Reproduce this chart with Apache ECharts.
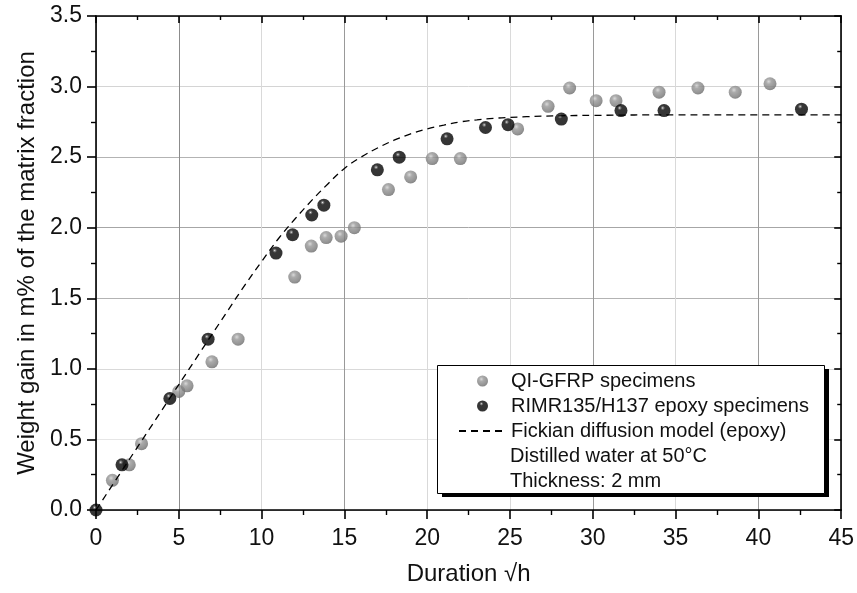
<!DOCTYPE html>
<html>
<head>
<meta charset="utf-8">
<script src="https://cdn.jsdelivr.net/npm/echarts@6/dist/echarts.min.js"></script>
<style>html,body{margin:0;padding:0;background:#fff}#c{width:857px;height:593px}</style>
</head>
<body>
<div id="c"></div>
<script>
// QI-GFRP specimens
const grayX = [0.99, 2.01, 2.75, 5.0, 5.5, 7.0, 8.58, 12.0, 13.0, 13.9, 14.8, 15.6, 17.66, 19.0, 20.3, 22.0, 25.46, 27.3, 28.6, 30.2, 31.4, 34.0, 36.35, 38.6, 40.7];
const grayY = [0.21, 0.32, 0.47, 0.84, 0.88, 1.05, 1.21, 1.65, 1.87, 1.93, 1.94, 2.0, 2.27, 2.36, 2.49, 2.49, 2.70, 2.86, 2.99, 2.90, 2.90, 2.96, 2.99, 2.96, 3.02];
// RIMR135/H137 epoxy specimens
const blackX = [0, 1.57, 4.46, 6.77, 10.87, 11.87, 13.03, 13.76, 16.99, 18.31, 21.2, 23.52, 24.88, 28.1, 31.7, 34.3, 42.6];
const blackY = [0, 0.32, 0.79, 1.21, 1.82, 1.95, 2.09, 2.16, 2.41, 2.50, 2.63, 2.71, 2.73, 2.77, 2.83, 2.83, 2.84];
// Fickian diffusion model (epoxy)
const fickX = [0, 2, 4, 6, 8, 9, 10, 11, 12, 13, 14, 15, 16, 17, 18, 19, 20, 21, 22, 23, 24, 25, 26, 28, 30, 35, 40, 45];
const fickY = [0, 0.356, 0.711, 1.066, 1.42, 1.595, 1.76, 1.92, 2.06, 2.19, 2.31, 2.42, 2.50, 2.565, 2.62, 2.665, 2.70, 2.727, 2.75, 2.764, 2.775, 2.781, 2.787, 2.793, 2.796, 2.8, 2.8, 2.8];

const seriesNames = ['QI-GFRP specimens', 'RIMR135/H137 epoxy specimens', 'Fickian diffusion model (epoxy)'];
const noteLines = ['Distilled water at 50°C', 'Thickness: 2 mm'];
const xTitle = 'Duration √h';
const yTitle = 'Weight gain in m% of the matrix fraction';

const FONT = '"Liberation Sans", Arial, sans-serif';
const zip = (a, b) => a.map((v, i) => [v, b[i]]);

const grayBall = {type: 'radial', x: 0.4, y: 0.33, r: 0.68, colorStops: [
  {offset: 0, color: '#cfcfcf'}, {offset: 0.3, color: '#969696'}, {offset: 0.8, color: '#7a7a7a'}, {offset: 1, color: '#676767'}]};
const blackBall = {type: 'radial', x: 0.4, y: 0.3, r: 0.7, colorStops: [
  {offset: 0, color: '#eeeeee'}, {offset: 0.1, color: '#666666'}, {offset: 0.25, color: '#050505'}, {offset: 1, color: '#000000'}]};

const chart = echarts.init(document.getElementById('c'), null, {renderer: 'canvas'});
const axisLineStyle = {color: '#000', width: 1.6};
const option = {
  backgroundColor: '#fff',
  animation: false,
  textStyle: {fontFamily: FONT},
  grid: {left: 96, right: 14, top: 16, bottom: 83, containLabel: false},
  xAxis: [{
    type: 'value', min: 0, max: 45, interval: 5, position: 'bottom',
    name: xTitle, nameLocation: 'middle', nameGap: 52,
    nameTextStyle: {fontSize: 24, color: '#111', fontFamily: FONT},
    axisLine: {show: true, onZero: false, lineStyle: axisLineStyle},
    axisTick: {show: true, inside: false, length: 9, lineStyle: {color: '#000', width: 1.6}},
    minorTick: {show: true, splitNumber: 2, length: 5, lineStyle: {color: '#000', width: 1.4}},
    axisLabel: {fontSize: 23, color: '#111', margin: 17, fontFamily: FONT},
    splitLine: {show: true, lineStyle: {width: 1, color: ['#aaaaaa', '#8c8c8c', '#d9d9d9', '#999999', '#d9d9d9', '#dadada', '#9a9a9a', '#d9d9d9', '#9a9a9a', '#aaaaaa']}}
  }, {
    type: 'value', min: 0, max: 45, interval: 5, position: 'top',
    axisLine: {show: true, onZero: false, lineStyle: axisLineStyle},
    axisTick: {show: true, inside: true, length: 7, lineStyle: {color: '#000', width: 1.6}},
    minorTick: {show: true, splitNumber: 2, length: 4, lineStyle: {color: '#000', width: 1.4}},
    axisLabel: {show: false}, splitLine: {show: false}
  }],
  yAxis: [{
    type: 'value', min: 0, max: 3.5, interval: 0.5, position: 'left',
    name: yTitle, nameLocation: 'middle', nameGap: 57, nameRotate: 90,
    nameTextStyle: {fontSize: 24, color: '#111', fontFamily: FONT},
    axisLine: {show: true, onZero: false, lineStyle: axisLineStyle},
    axisTick: {show: true, inside: false, length: 9, lineStyle: {color: '#000', width: 1.6}},
    minorTick: {show: true, splitNumber: 2, length: 5, lineStyle: {color: '#000', width: 1.4}},
    axisLabel: {fontSize: 23, color: '#111', margin: 14, fontFamily: FONT,
      formatter: v => v.toFixed(1)},
    splitLine: {show: true, lineStyle: {width: 1, color: ['#aaaaaa', '#e6e6e6', '#d9d9d9', '#b3b3b3', '#a6a6a6', '#b3b3b3', '#d4d4d4', '#aaaaaa']}}
  }, {
    type: 'value', min: 0, max: 3.5, interval: 0.5, position: 'right',
    axisLine: {show: true, onZero: false, lineStyle: axisLineStyle},
    axisTick: {show: true, inside: true, length: 7, lineStyle: {color: '#000', width: 1.6}},
    minorTick: {show: true, splitNumber: 2, length: 4, lineStyle: {color: '#000', width: 1.4}},
    axisLabel: {show: false}, splitLine: {show: false}
  }],
  legend: {
    show: true, orient: 'vertical', left: 458, top: 371, padding: 0, itemGap: 5,
    itemWidth: 47, itemHeight: 11, z: 20,
    textStyle: {fontSize: 20, color: '#111', fontFamily: FONT},
    data: [seriesNames[0], seriesNames[1], {name: seriesNames[2], itemStyle: {opacity: 0}}]
  },
  graphic: {elements: [
    {type: 'rect', left: 442, top: 369, z: 10, shape: {width: 387, height: 128}, style: {fill: '#000'}},
    {type: 'rect', left: 437, top: 365, z: 11, shape: {width: 387, height: 128}, style: {fill: '#fff', stroke: '#000', lineWidth: 1}},
    {type: 'text', left: 510, top: 446, z: 21, style: {text: noteLines[0], font: '20px ' + FONT, fill: '#111'}},
    {type: 'text', left: 510, top: 471, z: 21, style: {text: noteLines[1], font: '20px ' + FONT, fill: '#111'}}
  ]},
  series: [{
    name: seriesNames[0], type: 'scatter', xAxisIndex: 0, yAxisIndex: 0,
    data: zip(grayX, grayY), symbol: 'circle', symbolSize: 13,
    itemStyle: {color: grayBall}, z: 3
  }, {
    name: seriesNames[1], type: 'scatter', xAxisIndex: 0, yAxisIndex: 0,
    data: zip(blackX, blackY), symbol: 'circle', symbolSize: 13,
    itemStyle: {color: blackBall}, z: 4
  }, {
    name: seriesNames[2], type: 'line', xAxisIndex: 0, yAxisIndex: 0,
    data: zip(fickX, fickY), symbol: 'none', showSymbol: false, smooth: 0.4,
    lineStyle: {color: '#000', width: 1.3, type: [7, 5]}, itemStyle: {color: '#000'}, z: 5
  }]
};
chart.setOption(option);
</script>
</body>
</html>
